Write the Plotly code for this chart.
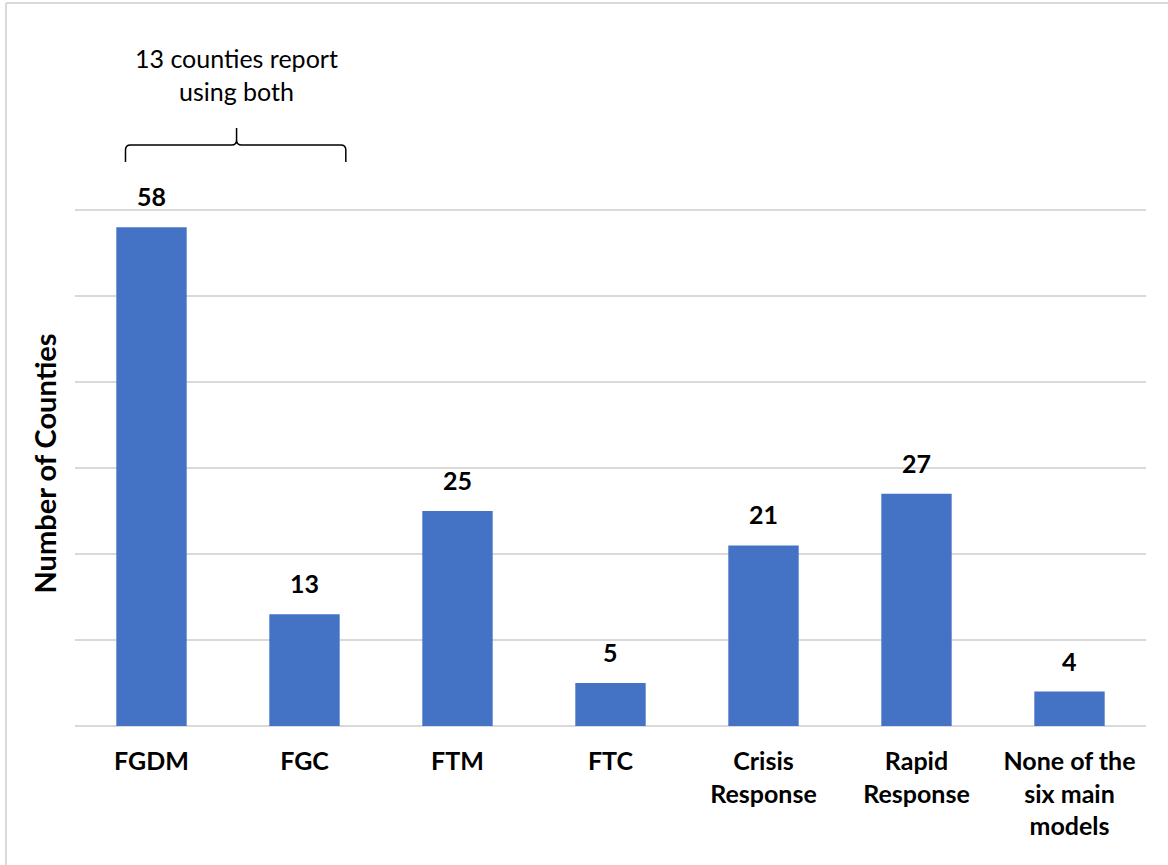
import plotly.graph_objects as go

# data
categories = ["FGDM", "FGC", "FTM", "FTC", "Crisis<br>Response",
              "Rapid<br>Response", "None of the<br>six main<br>models"]
counties = [58, 13, 25, 5, 21, 27, 4]
y_ticks = [0, 10, 20, 30, 40, 50, 60]
brace_note = "13 counties report<br>using both"

positions = list(range(len(categories)))
FONT = "Lato"

fig = go.Figure(go.Bar(
    x=positions,
    y=counties,
    width=0.46,
    marker_color="#4472C4",
    marker_line_width=0,
    hoverinfo="skip",
))

# value labels above each bar
for x, v in zip(positions, counties):
    fig.add_annotation(
        x=x, y=v, text=f"<b>{v}</b>", showarrow=False,
        xref="x", yref="y", yanchor="bottom", yshift=14,
        font=dict(family=FONT, size=25, color="#000000"),
    )

# curly brace over the first two bars
x0, x1, xc = -0.17, 1.27, 0.556
yb, yt, ytip = 1.0743, 1.1067, 1.139
rx, ry = 0.033, 0.0095
brace = (
    f"M {x0},{yb} L {x0},{yt - ry} Q {x0},{yt} {x0 + rx},{yt} "
    f"L {xc - rx},{yt} Q {xc},{yt} {xc},{yt + ry} L {xc},{ytip} "
    f"M {xc},{yt + ry} Q {xc},{yt} {xc + rx},{yt} "
    f"L {x1 - rx},{yt} Q {x1},{yt} {x1},{yt - ry} L {x1},{yb}"
)
fig.add_shape(type="path", path=brace, xref="x", yref="paper",
              line=dict(color="#000000", width=1.5))
fig.add_annotation(
    x=xc, y=1.2419, xref="x", yref="paper", text=brace_note,
    xanchor="center", yanchor="middle",
    showarrow=False, font=dict(family=FONT, size=25, color="#000000"),
)

# chart frame (left and top edges visible)
fig.add_shape(type="line", xref="paper", yref="paper",
              x0=-0.0644, x1=-0.0644, y0=-0.3, y1=1.377,
              line=dict(color="#d9d9d9", width=2))
fig.add_shape(type="line", xref="paper", yref="paper",
              x0=-0.0644, x1=1.05, y0=1.377, y1=1.377,
              line=dict(color="#d9d9d9", width=2))

fig.update_layout(
    width=1168,
    height=865,
    margin=dict(l=75, r=22, t=201, b=139),
    plot_bgcolor="white",
    paper_bgcolor="white",
    showlegend=False,
    font=dict(family=FONT, size=25, color="#000000"),
    xaxis=dict(
        range=[-0.5, len(categories) - 0.5],
        tickvals=positions,
        ticktext=[f"<b>{c}</b>" for c in categories],
        showgrid=False, zeroline=False, showline=False,
        ticks="", ticklabelstandoff=18,
        tickfont=dict(family=FONT, size=25, color="#000000"),
    ),
    yaxis=dict(
        range=[0, 61.05],
        tickvals=y_ticks,
        showticklabels=False,
        showgrid=True, gridcolor="#d9d9d9", gridwidth=1.5,
        zeroline=True, zerolinecolor="#d9d9d9", zerolinewidth=1.5,
        showline=False, ticks="",
        title=dict(text="<b>Number of Counties</b>", standoff=8,
                   font=dict(family=FONT, size=29, color="#000000")),
    ),
)

fig.write_html("out.html", config={"displayModeBar": False},
               post_script="document.body.style.margin='0';")
